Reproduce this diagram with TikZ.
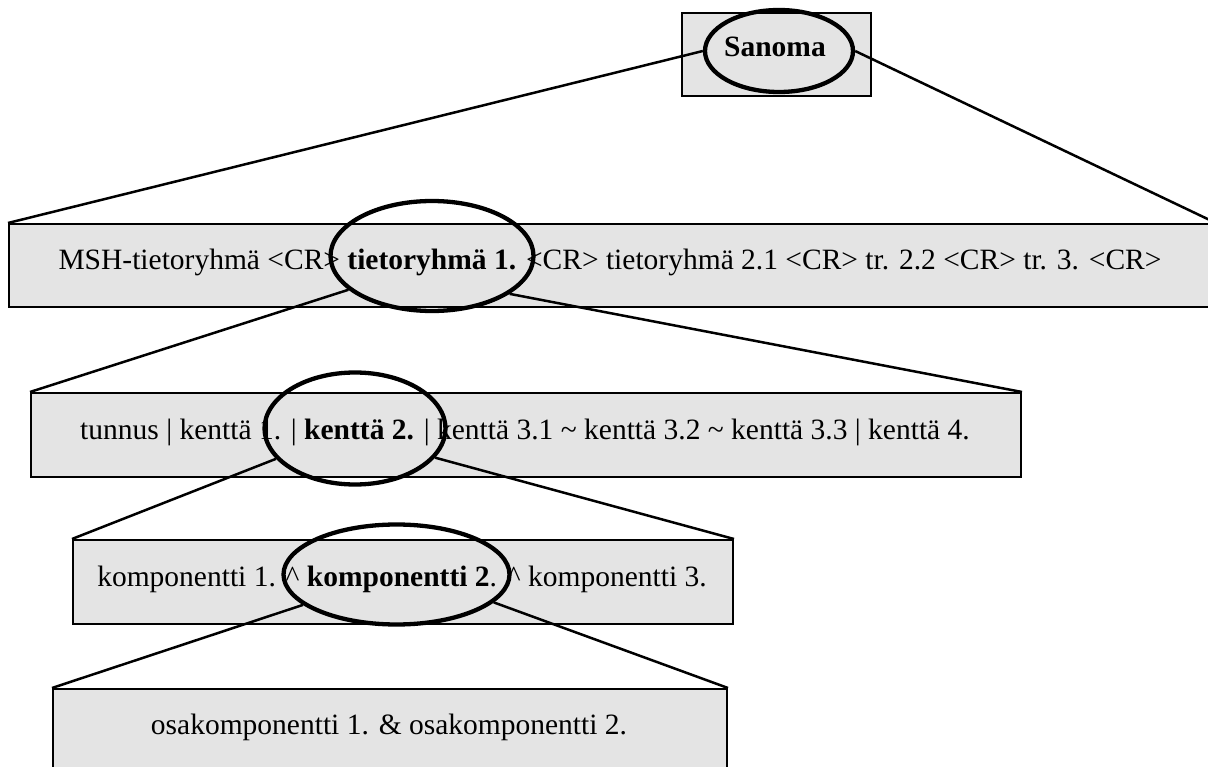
\documentclass[tikz,border=0pt]{standalone}
\usepackage{fontspec}
\setmainfont{Liberation Serif}
\usetikzlibrary{shapes.geometric}
\definecolor{panelgray}{RGB}{228,228,228}
\begin{document}
\begin{tikzpicture}[x=1pt,y=-1pt,
  level/.style={draw, line width=2pt, fill=panelgray, inner sep=0pt, anchor=north west},
  focus/.style={draw, ellipse, line width=4.3pt, inner sep=0pt},
  link/.style={line width=2.5pt},
  entry/.style={inner sep=0pt, anchor=base},
  font=\fontsize{29.5}{34}\selectfont]
\useasboundingbox (0,0) rectangle (1208,767);
\clip (0,0) rectangle (1208,767);

% the nested levels of the message structure
\node[level, minimum width=189pt, minimum height=83pt] (b0) at (681,12) {};
\node[level, minimum width=1206pt, minimum height=83pt] (b1) at (8,223) {};
\node[level, minimum width=990pt, minimum height=84pt] (b2) at (30,392) {};
\node[level, minimum width=660pt, minimum height=84pt] (b3) at (72,539) {};
\node[level, minimum width=674pt, minimum height=84pt] (b4) at (52,688) {};

% row texts
\node[entry] (t0) at (775,57) {\textbf{Sanoma}};
\node[entry] (t1) at (610,270)
  {MSH-tietoryhmä <CR> \textbf{tietoryhmä 1.} <CR> tietoryhmä 2.1 <CR> tr. 2.2 <CR> tr. 3. <CR>};
\node[entry] (t2) at (525,439)
  {tunnus | kenttä 1. | \textbf{kenttä 2.} | kenttä 3.1 \char`~{} kenttä 3.2 \char`~{} kenttä 3.3 | kenttä 4.};
\node[entry] (t3) at (402,586)
  {komponentti 1. \char`^{} \textbf{komponentti 2}. \char`^{} komponentti 3.};
\node[entry] (t4) at (389,734) {osakomponentti 1. \& osakomponentti 2.};

% highlighted elements
\node[focus, minimum width=148pt, minimum height=82pt] (e0) at (779,51) {};
\node[focus, minimum width=203pt, minimum height=110pt] (e1) at (432,256) {};
\node[focus, minimum width=181pt, minimum height=112pt] (e2) at (355,428.5) {};
\node[focus, minimum width=226pt, minimum height=100pt] (e3) at (396.5,574.5) {};

% expansion lines from each highlighted element to the next level
\draw[link] (e0.west) -- (b1.north west);
\draw[link] (e0.east) -- (b1.north east);
\draw[link] (e1.202) -- (b2.north west);
\draw[link] (e1.334) -- (b2.north east);
\draw[link] (e2.201) -- (b3.north west);
\draw[link] (e2.340) -- (b3.north east);
\draw[link] (e3.198) -- (b4.north west);
\draw[link] (e3.344) -- (b4.north east);
\end{tikzpicture}
\end{document}
